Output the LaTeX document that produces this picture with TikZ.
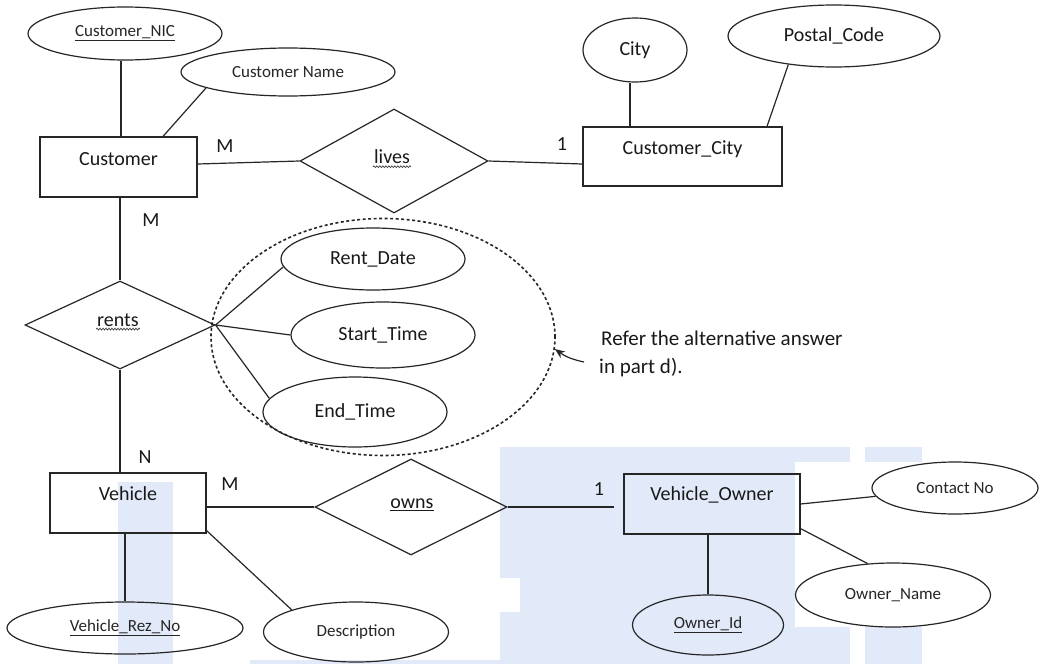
\documentclass[tikz,border=0pt]{standalone}
\usepackage{fontspec}
\setmainfont{Carlito}
\usetikzlibrary{shapes.geometric,arrows.meta,decorations.pathmorphing}
\definecolor{wm}{RGB}{226,233,249}
\newcommand\erbig{\fontsize{20}{24}\selectfont}
\newcommand\ersmall{\fontsize{17}{20}\selectfont}
\begin{document}
\begin{tikzpicture}[x=1pt,y=-1pt,
  ln/.style={line width=1.2pt, draw=black!85},
  entity/.style={ln, rectangle, inner sep=0pt},
  rel/.style={ln, diamond, inner sep=0pt},
  reltext/.style={font=\erbig, text=black!90, inner sep=1pt},
  wavy/.style={decorate, decoration={snake, amplitude=0.9pt, segment length=3pt}, line width=0.7pt, draw=black!75},
  attr/.style={ln, ellipse, inner sep=0pt, font=\ersmall, text=black!85},
  battr/.style={ln, ellipse, inner sep=0pt, font=\erbig, text=black!90},
  card/.style={font=\erbig, text=black!90, inner sep=0pt},
  elabel/.style={font=\erbig, text=black!90},
  note/.style={font=\fontsize{21}{24}\selectfont, text=black!90, inner sep=0pt, anchor=base west}
]
\path[use as bounding box, fill=white] (0,0) rectangle (1040,664);
% watermark
\fill[wm] (118,482) rectangle (173,664);
\fill[wm] (500,447) rectangle (850,664);
\fill[wm] (865,447) rectangle (922,664);
\fill[wm] (250,660) rectangle (500,664);
\fill[white] (795,462) rectangle (1040,627);
\fill[white] (500,578) rectangle (520,612);

% entities
\node[entity, minimum width=157pt, minimum height=60pt,
  label={[elabel, yshift=8pt]center:Customer}] (cust) at (118.5,167) {};
\node[entity, minimum width=199pt, minimum height=59pt,
  label={[elabel, yshift=7.5pt]center:Customer\_City}] (ccity) at (682.5,156.5) {};
\node[entity, minimum width=156pt, minimum height=60pt,
  label={[elabel, yshift=9pt]center:Vehicle}] (veh) at (128,503) {};
\node[entity, minimum width=176pt, minimum height=60pt,
  label={[elabel, yshift=9pt]center:Vehicle\_Owner}] (vown) at (712,504) {};

% relationships
\node[rel, minimum width=188pt, minimum height=104pt] (lives) at (394,161) {};
\node[rel, minimum width=190pt, minimum height=88pt] (rents) at (120,325) {};
\node[rel, minimum width=192pt, minimum height=96pt] (owns) at (411,507) {};
\node[reltext] (livesT) at (392,157) {lives};
\node[reltext] (rentsT) at (118,320) {rents};
\node[reltext] (ownsT) at (412,505) {\underline{owns}};
\draw[wavy] ([yshift=-1.5pt]livesT.south west) -- ([yshift=-1.5pt]livesT.south east);
\draw[wavy] ([yshift=-1.5pt]rentsT.south west) -- ([yshift=-1.5pt]rentsT.south east);

% attributes
\node[attr, minimum width=194pt, minimum height=53pt] (nic) at (125,33.5) {\underline{Customer\_NIC}};
\node[attr, minimum width=214pt, minimum height=48pt] (cname) at (288,72) {Customer Name};
\node[battr, minimum width=104pt, minimum height=64pt] (city) at (635,50) {City};
\node[battr, minimum width=212pt, minimum height=62pt] (postal) at (834,36) {Postal\_Code};
\node[battr, minimum width=184pt, minimum height=62pt] (rdate) at (373,259) {Rent\_Date};
\node[battr, minimum width=184pt, minimum height=66pt] (stime) at (383,335) {Start\_Time};
\node[battr, minimum width=184pt, minimum height=70pt] (etime) at (355,412) {End\_Time};
\node[attr, minimum width=236pt, minimum height=52pt] (vrn) at (125,628) {\underline{Vehicle\_Rez\_No}};
\node[attr, minimum width=185pt, minimum height=60pt] (desc) at (356,632) {Description};
\node[attr, minimum width=151pt, minimum height=60pt] (oid) at (708,625) {\underline{Owner\_Id}};
\node[attr, minimum width=166pt, minimum height=52pt] (contact) at (955,488) {Contact No};
\node[attr, minimum width=195pt, minimum height=64pt] (oname) at (893,595) {Owner\_Name};

% dashed group
\node[draw=black!85, ellipse, line width=1.6pt, dash pattern=on 3pt off 2.5pt,
  minimum width=344pt, minimum height=237pt, inner sep=0pt] (grp) at (383,337) {};

% cardinalities
\node[card] (m1) at (225,146) {M};
\node[card] (one1) at (562,144) {1};
\node[card] (m2) at (151,220) {M};
\node[card] (n1) at (145,457) {N};
\node[card] (m3) at (230,484) {M};
\node[card] (one2) at (599,489) {1};

% note
\node[note] (note1) at (601,345) {Refer the alternative answer};
\node[note] (note2) at (599,373) {in part d).};
\coordinate (atail) at (584,362);
\draw[ln, -{Stealth[length=10pt,width=8pt]}] (atail) to[bend left=12] (grp.-4);

% connectors
\draw[ln] ([xshift=-4pt]nic.south) -- ([xshift=2.5pt]cust.north);
\draw[ln] (cname.191) -- ([xshift=44.5pt]cust.north);
\draw[ln] ([yshift=3pt]cust.east) -- (lives.west);
\draw[ln] (lives.east) -- ([yshift=-7.5pt]ccity.west);
\draw[ln] ([xshift=-5pt]city.south) -- ([xshift=-52.5pt]ccity.north);
\draw[ln] (postal.212) -- ([xshift=84.5pt]ccity.north);
\draw[ln] (cust.south -| rents.north) -- (rents.north);
\draw[ln] (rents.east) -- (rdate.185);
\draw[ln] (rents.east) -- (stime.west);
\draw[ln] (rents.east) -- (etime.171);
\draw[ln] (rents.south) -- (rents.south |- veh.north);
\draw[ln] ([yshift=-4pt]veh.east) -- (owns.west);
\draw[ln] (owns.east) -- ([xshift=-9pt,yshift=-3pt]vown.west);
\draw[ln] (vown.east) -- (contact.186);
\draw[ln] ([yshift=6pt]vown.south east) -- (oname.129);
\draw[ln] (oid.north |- vown.south) -- (oid.north);
\draw[ln] (vrn.north |- veh.south) -- (vrn.north);
\draw[ln] ([yshift=3pt]veh.south east) -- (desc.161);
\end{tikzpicture}
\end{document}
